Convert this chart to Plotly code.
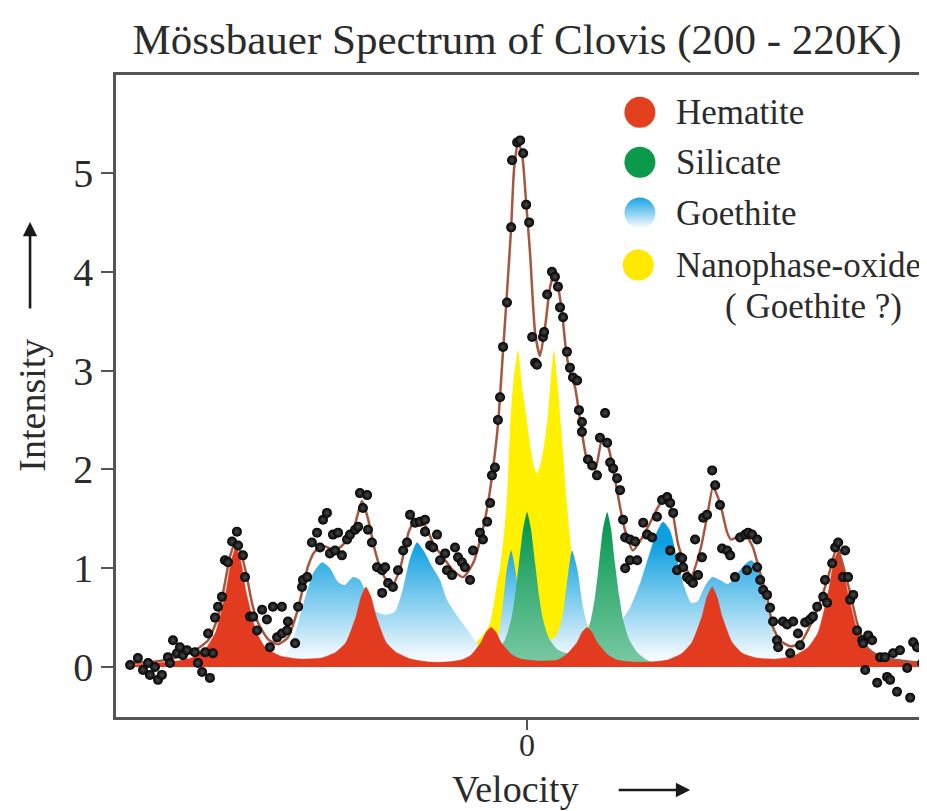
import plotly.graph_objects as go

# ---------------- data (velocity in mm/s-like units, intensity in arbitrary units) ----------------
hematite_v = [-13.17, -11.67, -11.2, -10.7, -10.37, -10.03, -9.87, -9.7, -9.53, -9.37,
              -9.03, -8.7, -8.2, -7.53, -6.87, -6.37, -6.03, -5.7, -5.53, -5.37,
              -5.2, -5.03, -4.7, -4.37, -3.87, -3.27, -2.7, -2.2, -1.87, -1.53,
              -1.37, -1.2, -1.03, -0.87, -0.53, -0.2, 0.4, 1.0, 1.33, 1.67,
              1.83, 2.0, 2.17, 2.33, 2.67, 3.0, 3.5, 4.07, 4.67, 5.17,
              5.5, 5.83, 6.0, 6.17, 6.33, 6.5, 6.83, 7.17, 7.67, 8.27,
              8.87, 9.37, 9.7, 10.03, 10.2, 10.37, 10.53, 10.7, 11.03, 11.37,
              11.87, 12.67, 13.33]
hematite_i = [0.02, 0.06, 0.09, 0.19, 0.36, 0.77, 1.06, 1.22, 1.06, 0.77,
              0.36, 0.19, 0.11, 0.08, 0.09, 0.15, 0.25, 0.51, 0.71, 0.81,
              0.71, 0.51, 0.25, 0.15, 0.08, 0.05, 0.05, 0.07, 0.12, 0.25,
              0.35, 0.40, 0.35, 0.25, 0.13, 0.08, 0.06, 0.07, 0.13, 0.25,
              0.35, 0.40, 0.35, 0.25, 0.13, 0.07, 0.05, 0.05, 0.07, 0.14,
              0.25, 0.51, 0.71, 0.81, 0.71, 0.51, 0.25, 0.14, 0.09, 0.08,
              0.11, 0.20, 0.35, 0.74, 1.03, 1.18, 1.03, 0.74, 0.35, 0.19,
              0.09, 0.05, 0.03]

silicate_v = [-1.9, -1.33, -1.0, -0.73, -0.53, -0.4, -0.27, -0.13, 0.0, 0.13,
              0.27, 0.4, 0.53, 0.73, 1.0, 1.33, 1.67, 1.93, 2.13, 2.27,
              2.4, 2.53, 2.67, 2.8, 2.93, 3.07, 3.2, 3.4, 3.67, 4.0,
              4.5, 4.93]
silicate_i = [0.0, 0.07, 0.15, 0.28, 0.48, 0.72, 1.05, 1.40, 1.57, 1.40,
              1.05, 0.72, 0.48, 0.29, 0.18, 0.14, 0.18, 0.29, 0.48, 0.72,
              1.05, 1.40, 1.57, 1.40, 1.05, 0.72, 0.48, 0.28, 0.15, 0.07,
              0.02, 0.0]

goethite_v = [-8.57, -8.07, -7.73, -7.4, -7.13, -6.83, -6.57, -6.3, -6.07, -5.8,
              -5.57, -5.3, -5.03, -4.73, -4.4, -4.13, -3.9, -3.67, -3.43, -3.17,
              -2.9, -2.67, -2.4, -2.17, -1.9, -1.63, -1.37, -1.07, -0.83, -0.67,
              -0.53, -0.4, -0.23, 0.0, 0.27, 0.6, 0.93, 1.17, 1.37, 1.5,
              1.67, 1.87, 2.1, 2.43, 2.77, 3.1, 3.43, 3.77, 4.03, 4.3,
              4.53, 4.77, 5.0, 5.23, 5.47, 5.67, 5.93, 6.17, 6.43, 6.7,
              6.97, 7.23, 7.47, 7.67, 7.87, 8.07, 8.27, 8.5, 8.83, 9.27]
goethite_i = [0.02, 0.12, 0.35, 0.70, 0.95, 1.06, 1.00, 0.86, 0.83, 0.91,
              0.88, 0.70, 0.56, 0.53, 0.56, 0.80, 1.10, 1.26, 1.17, 1.02,
              0.88, 0.68, 0.55, 0.45, 0.34, 0.22, 0.08, 0.18, 0.58, 1.00,
              1.18, 1.00, 0.65, 0.40, 0.30, 0.27, 0.30, 0.50, 0.95, 1.18,
              1.00, 0.60, 0.35, 0.30, 0.35, 0.45, 0.60, 0.85, 1.10, 1.35,
              1.47, 1.38, 1.10, 0.82, 0.65, 0.66, 0.82, 0.91, 0.88, 0.84,
              0.93, 1.03, 1.08, 1.02, 0.80, 0.55, 0.28, 0.12, 0.04, 0.0]

nano_v = [-2.57, -2.23, -1.9, -1.63, -1.4, -1.23, -1.13, -1.0, -0.9, -0.77,
          -0.67, -0.57, -0.47, -0.3, -0.17, -0.03, 0.1, 0.23, 0.33, 0.43,
          0.57, 0.7, 0.8, 0.9, 1.03, 1.13, 1.2, 1.3, 1.37, 1.5,
          1.63, 1.77, 1.93, 2.17, 2.43, 2.77, 3.27, 3.77]
nano_i = [0.05, 0.10, 0.17, 0.27, 0.35, 0.45, 0.60, 0.85, 1.00, 1.35,
          1.70, 2.40, 2.85, 3.21, 2.85, 2.55, 2.25, 2.03, 1.96, 2.03,
          2.25, 2.55, 2.95, 3.21, 2.83, 2.45, 2.17, 1.75, 1.50, 1.10,
          0.80, 0.58, 0.48, 0.35, 0.25, 0.15, 0.08, 0.0]

fit_v = [-13.3, -12.57, -11.9, -11.17, -10.63, -10.3, -10.07, -9.9, -9.73, -9.53,
         -9.33, -9.17, -8.97, -8.63, -8.3, -7.97, -7.67, -7.47, -7.3, -7.07,
         -6.73, -6.4, -6.13, -5.8, -5.5, -5.3, -5.07, -4.83, -4.5, -4.23,
         -3.93, -3.7, -3.37, -3.13, -2.8, -2.47, -2.13, -1.8, -1.5, -1.3,
         -1.13, -0.97, -0.8, -0.67, -0.53, -0.43, -0.3, -0.17, -0.03, 0.1,
         0.27, 0.43, 0.6, 0.77, 0.9, 1.03, 1.17, 1.3, 1.43, 1.6,
         1.77, 2.0, 2.27, 2.5, 2.7, 2.9, 3.1, 3.27, 3.53, 3.8,
         4.1, 4.37, 4.6, 4.83, 5.03, 5.3, 5.47, 5.77, 6.0, 6.2,
         6.43, 6.67, 6.8, 7.03, 7.27, 7.53, 7.77, 8.0, 8.2, 8.43,
         8.77, 9.1, 9.53, 9.87, 10.1, 10.33, 10.53, 10.77, 11.0, 11.33,
         11.77, 12.33, 12.87, 13.33]
fit_i = [0.04, 0.05, 0.08, 0.15, 0.27, 0.51, 0.85, 1.12, 1.25, 1.15,
         0.90, 0.65, 0.45, 0.28, 0.23, 0.30, 0.55, 0.80, 1.02, 1.17,
         1.22, 1.18, 1.24, 1.38, 1.68, 1.50, 1.18, 0.95, 0.82, 1.00,
         1.38, 1.49, 1.42, 1.25, 1.11, 0.98, 0.91, 1.05, 1.36, 1.66,
         2.02, 2.45, 3.20, 3.78, 4.45, 5.05, 5.31, 5.20, 4.70, 4.19,
         3.38, 3.15, 3.44, 3.85, 3.97, 3.85, 3.58, 3.20, 2.98, 2.83,
         2.50, 2.10, 2.00, 2.30, 2.23, 1.95, 1.62, 1.38, 1.18, 1.29,
         1.46, 1.62, 1.71, 1.59, 1.25, 1.00, 0.92, 1.18, 1.52, 1.82,
         1.66, 1.36, 1.29, 1.32, 1.34, 1.21, 0.95, 0.71, 0.40, 0.27,
         0.21, 0.24, 0.48, 0.75, 0.98, 1.22, 1.03, 0.75, 0.45, 0.20,
         0.10, 0.07, 0.05, 0.05]

obs_v = [-13.23, -12.97, -12.8, -12.63, -12.57, -12.4, -12.3, -12.17, -11.97, -11.9,
         -11.8, -11.67, -11.57, -11.47, -11.33, -11.07, -10.97, -10.83, -10.73, -10.63,
         -10.57, -10.47, -10.4, -10.3, -10.17, -10.07, -9.97, -9.83, -9.67, -9.63,
         -9.47, -9.4, -9.23, -9.13, -9.0, -8.83, -8.67, -8.57, -8.47, -8.33,
         -8.17, -8.17, -8.0, -7.97, -7.73, -7.63, -7.5, -7.47, -7.33, -7.17,
         -7.0, -6.9, -6.8, -6.67, -6.57, -6.47, -6.4, -6.3, -6.17, -6.0,
         -5.9, -5.73, -5.63, -5.57, -5.47, -5.33, -5.3, -5.17, -5.0, -4.83,
         -4.83, -4.73, -4.63, -4.47, -4.3, -4.13, -4.0, -3.9, -3.73, -3.57,
         -3.4, -3.4, -3.23, -3.13, -3.0, -2.9, -2.73, -2.67, -2.5, -2.4,
         -2.3, -2.17, -2.07, -1.9, -1.8, -1.57, -1.47, -1.33, -1.23, -1.17,
         -1.07, -0.97, -0.9, -0.8, -0.67, -0.53, -0.5, -0.33, -0.23, -0.13,
         -0.03, 0.07, 0.17, 0.27, 0.33, 0.53, 0.57, 0.67, 0.83, 0.93,
         1.03, 1.1, 1.2, 1.33, 1.43, 1.53, 1.67, 1.73, 1.83, 1.83,
         2.03, 2.17, 2.33, 2.43, 2.6, 2.67, 2.77, 2.87, 3.0, 3.1,
         3.2, 3.27, 3.27, 3.43, 3.43, 3.6, 3.67, 3.87, 4.0, 4.17,
         4.33, 4.5, 4.67, 4.77, 4.77, 4.87, 5.0, 5.1, 5.17, 5.2,
         5.33, 5.43, 5.53, 5.6, 5.7, 5.83, 5.87, 6.0, 6.17, 6.27,
         6.43, 6.5, 6.67, 6.77, 6.93, 7.1, 7.27, 7.33, 7.37, 7.5,
         7.67, 7.67, 7.77, 7.87, 8.0, 8.1, 8.2, 8.33, 8.37, 8.53,
         8.67, 8.77, 8.87, 9.03, 9.1, 9.27, 9.43, 9.53, 9.67, 9.87,
         9.93, 10.0, 10.17, 10.27, 10.37, 10.53, 10.6, 10.7, 10.77, 10.87,
         11.0, 11.17, 11.2, 11.27, 11.37, 11.5, 11.67, 11.77, 11.93, 12.0,
         12.1, 12.2, 12.33, 12.43, 12.67, 12.77, 12.87, 13.0, 13.17, 13.27]
obs_i = [0.02, 0.09, -0.03, 0.04, -0.08, 0.0, -0.13, -0.08, 0.10, 0.04,
         0.27, 0.14, 0.20, 0.12, 0.17, 0.15, 0.04, -0.05, 0.15, 0.34,
         -0.11, 0.14, 0.50, 0.61, 0.71, 1.08, 1.06, 1.27, 1.37, 1.23,
         1.13, 0.91, 0.51, 0.51, 0.37, 0.58, 0.48, 0.20, 0.61, 0.30,
         0.61, 0.34, 0.37, 0.46, 0.24, 0.61, 0.81, 0.88, 0.91, 1.26,
         1.36, 1.21, 1.49, 1.56, 1.15, 1.34, 1.18, 1.36, 1.13, 1.29,
         1.34, 1.39, 1.42, 1.76, 1.61, 1.74, 1.39, 1.26, 1.01, 0.98,
         0.75, 1.01, 0.85, 0.81, 0.98, 1.18, 1.26, 1.54, 1.46, 1.47,
         1.49, 1.37, 1.23, 1.21, 1.34, 1.08, 1.15, 0.98, 0.93, 1.21,
         1.11, 1.06, 1.01, 0.88, 1.18, 1.36, 1.29, 1.47, 1.66, 1.94,
         2.02, 2.50, 2.73, 3.24, 3.69, 4.45, 5.13, 5.31, 5.33, 5.20,
         4.68, 4.50, 3.34, 3.08, 3.06, 3.34, 3.39, 3.77, 4.00, 3.95,
         3.85, 3.64, 3.54, 3.19, 3.03, 2.93, 2.90, 2.60, 2.48, 2.38,
         2.10, 2.04, 1.94, 2.32, 2.57, 2.27, 2.07, 2.01, 1.91, 1.79,
         1.49, 1.31, 1.00, 1.29, 1.08, 1.27, 1.08, 1.46, 1.34, 1.31,
         1.52, 1.69, 1.72, 1.66, 1.18, 1.56, 0.98, 1.11, 1.10, 1.01,
         0.91, 0.88, 0.85, 1.29, 0.93, 1.11, 1.51, 1.54, 1.99, 1.84,
         1.64, 1.20, 1.18, 1.13, 0.91, 1.31, 1.34, 0.98, 1.36, 1.34,
         1.29, 1.01, 0.88, 0.78, 0.73, 0.60, 0.46, 0.27, 0.20, 0.46,
         0.43, 0.14, 0.46, 0.34, 0.22, 0.45, 0.48, 0.51, 0.61, 0.71,
         0.88, 0.65, 1.05, 1.21, 1.26, 0.91, 1.18, 0.91, 0.68, 0.73,
         0.37, 0.27, 0.24, -0.03, 0.32, 0.27, -0.16, 0.10, 0.10, -0.10,
         -0.13, 0.14, -0.25, 0.17, -0.01, -0.31, 0.25, 0.20, 0.04, 0.14]

y_ticks = [0, 1, 2, 3, 4, 5]
x_ticks = [0]
x_tick_text = ["0"]

legend_names = ["Hematite", "Silicate", "Goethite", "Nanophase-oxide"]

# ---------------- styling ----------------
FONT = "Liberation Serif"
TXT = "#2b2b2b"
AX = "#555555"
RED = "#e23b1f"
YELLOW = "#fff100"

fig = go.Figure()

# Nanophase oxide (yellow, back-most)
fig.add_trace(go.Scatter(
    x=nano_v, y=nano_i, mode="lines", fill="tozeroy", fillcolor=YELLOW,
    line=dict(color=YELLOW, width=0, shape="spline", smoothing=0.5),
    hoverinfo="skip", showlegend=False))

# Goethite (blue gradient)
fig.add_trace(go.Scatter(
    x=goethite_v, y=goethite_i, mode="lines", fill="tozeroy",
    fillgradient=dict(type="vertical", start=0, stop=1.25,
                      colorscale=[[0, "#ffffff"], [0.12, "#eaf6fc"], [1, "#0d9fe0"]]),
    line=dict(color="rgba(0,0,0,0)", width=0, shape="spline", smoothing=0.6),
    hoverinfo="skip", showlegend=False))

# Silicate (green gradient)
fig.add_trace(go.Scatter(
    x=silicate_v, y=silicate_i, mode="lines", fill="tozeroy",
    fillgradient=dict(type="vertical", start=0, stop=1.57,
                      colorscale=[[0, "#7ccaa4"], [1, "#00944c"]]),
    line=dict(color="rgba(0,0,0,0)", width=0, shape="spline", smoothing=0.5),
    hoverinfo="skip", showlegend=False))

# Hematite (red)
fig.add_trace(go.Scatter(
    x=hematite_v, y=hematite_i, mode="lines", fill="tozeroy", fillcolor=RED,
    line=dict(color=RED, width=0.5, shape="spline", smoothing=0.5),
    hoverinfo="skip", showlegend=False))

# Fitted envelope (brown line)
fig.add_trace(go.Scatter(
    x=fit_v, y=fit_i, mode="lines",
    line=dict(color="#a5573f", width=2.5, shape="spline", smoothing=0.6),
    hoverinfo="skip", showlegend=False))

# Observed data (black dots)
fig.add_trace(go.Scatter(
    x=obs_v, y=obs_i, mode="markers",
    marker=dict(size=10, color="#000000",
                gradient=dict(type="radial", color="#4a4a4a"),
                line=dict(width=0)),
    hoverinfo="skip", showlegend=False))

# Legend symbols on an overlay axis (0..1 paper-like space)
leg_x = [0.646, 0.646, 0.646, 0.644]
leg_y = [0.942, 0.864, 0.785, 0.704]
leg_colors = ["#e2401f", "#0b9a4a", "#17a3e3", "#ffe900"]
for i in range(4):
    grad = dict(type="vertical", color="#ffffff") if i == 2 else dict(type="none")
    fig.add_trace(go.Scatter(
        x=[leg_x[i]], y=[leg_y[i]], xaxis="x2", yaxis="y2", mode="markers",
        marker=dict(size=31, color=leg_colors[i], gradient=grad, line=dict(width=0)),
        hoverinfo="skip", showlegend=False))

annotations = []
for i, name in enumerate(legend_names):
    annotations.append(dict(
        xref="paper", yref="paper", x=0.688, y=leg_y[i], text=name,
        showarrow=False, xanchor="left", yanchor="middle",
        font=dict(family=FONT, size=35, color=TXT)))
annotations.append(dict(
    xref="paper", yref="paper", x=0.748, y=0.639, text="( Goethite ?)",
    showarrow=False, xanchor="left", yanchor="middle",
    font=dict(family=FONT, size=35, color=TXT)))

# axis titles with arrows
annotations.append(dict(
    xref="paper", yref="paper", x=-0.104, y=0.486, text="Intensity",
    textangle=-90, showarrow=False, xanchor="center", yanchor="middle",
    font=dict(family=FONT, size=38, color=TXT)))
annotations.append(dict(
    xref="paper", yref="paper", x=-0.106, y=0.771, text="",
    showarrow=True, ax=0, ay=88, arrowhead=2, arrowsize=1.1, arrowwidth=2.6,
    arrowcolor="#1a1a1a"))
annotations.append(dict(
    xref="paper", yref="paper", x=0.492, y=-0.1121, text="Velocity",
    showarrow=False, xanchor="center", yanchor="middle",
    font=dict(family=FONT, size=38, color=TXT)))
annotations.append(dict(
    xref="paper", yref="paper", x=0.708, y=-0.1137, text="",
    showarrow=True, ax=-73, ay=0, arrowhead=2, arrowsize=1.1, arrowwidth=2.6,
    arrowcolor="#1a1a1a"))

# The page body has an 8px default margin; size the figure so the plot lands
# where the reference has it inside the 927x811 window.
fig.update_layout(
    width=919, height=803,
    margin=dict(l=108, r=0, t=67, b=94),
    paper_bgcolor="white", plot_bgcolor="white",
    title=dict(text="Mössbauer Spectrum of Clovis (200 - 220K)",
               x=0.554, xanchor="center", y=0.962, yanchor="middle",
               font=dict(family=FONT, size=43, color=TXT)),
    xaxis=dict(range=[-13.7, 13.33], showline=True, linecolor=AX, linewidth=2.5,
               mirror=True, ticks="outside", ticklen=10, tickwidth=2, tickcolor=AX,
               tickvals=x_ticks, ticktext=x_tick_text, showgrid=False, zeroline=False,
               ticklabelstandoff=-12,
               tickfont=dict(family=FONT, size=32, color=TXT)),
    yaxis=dict(range=[-0.506, 5.992], showline=True, linecolor=AX, linewidth=2.5,
               mirror=False, ticks="outside", ticklen=12, tickwidth=2, tickcolor=AX,
               tickvals=y_ticks, showgrid=False, zeroline=False,
               tickfont=dict(family=FONT, size=40, color=TXT)),
    xaxis2=dict(overlaying="x", range=[0, 1], visible=False, anchor="y2"),
    yaxis2=dict(overlaying="y", range=[0, 1], visible=False, anchor="x2"),
    annotations=annotations,
    showlegend=False,
)

fig.write_html("out.html")
